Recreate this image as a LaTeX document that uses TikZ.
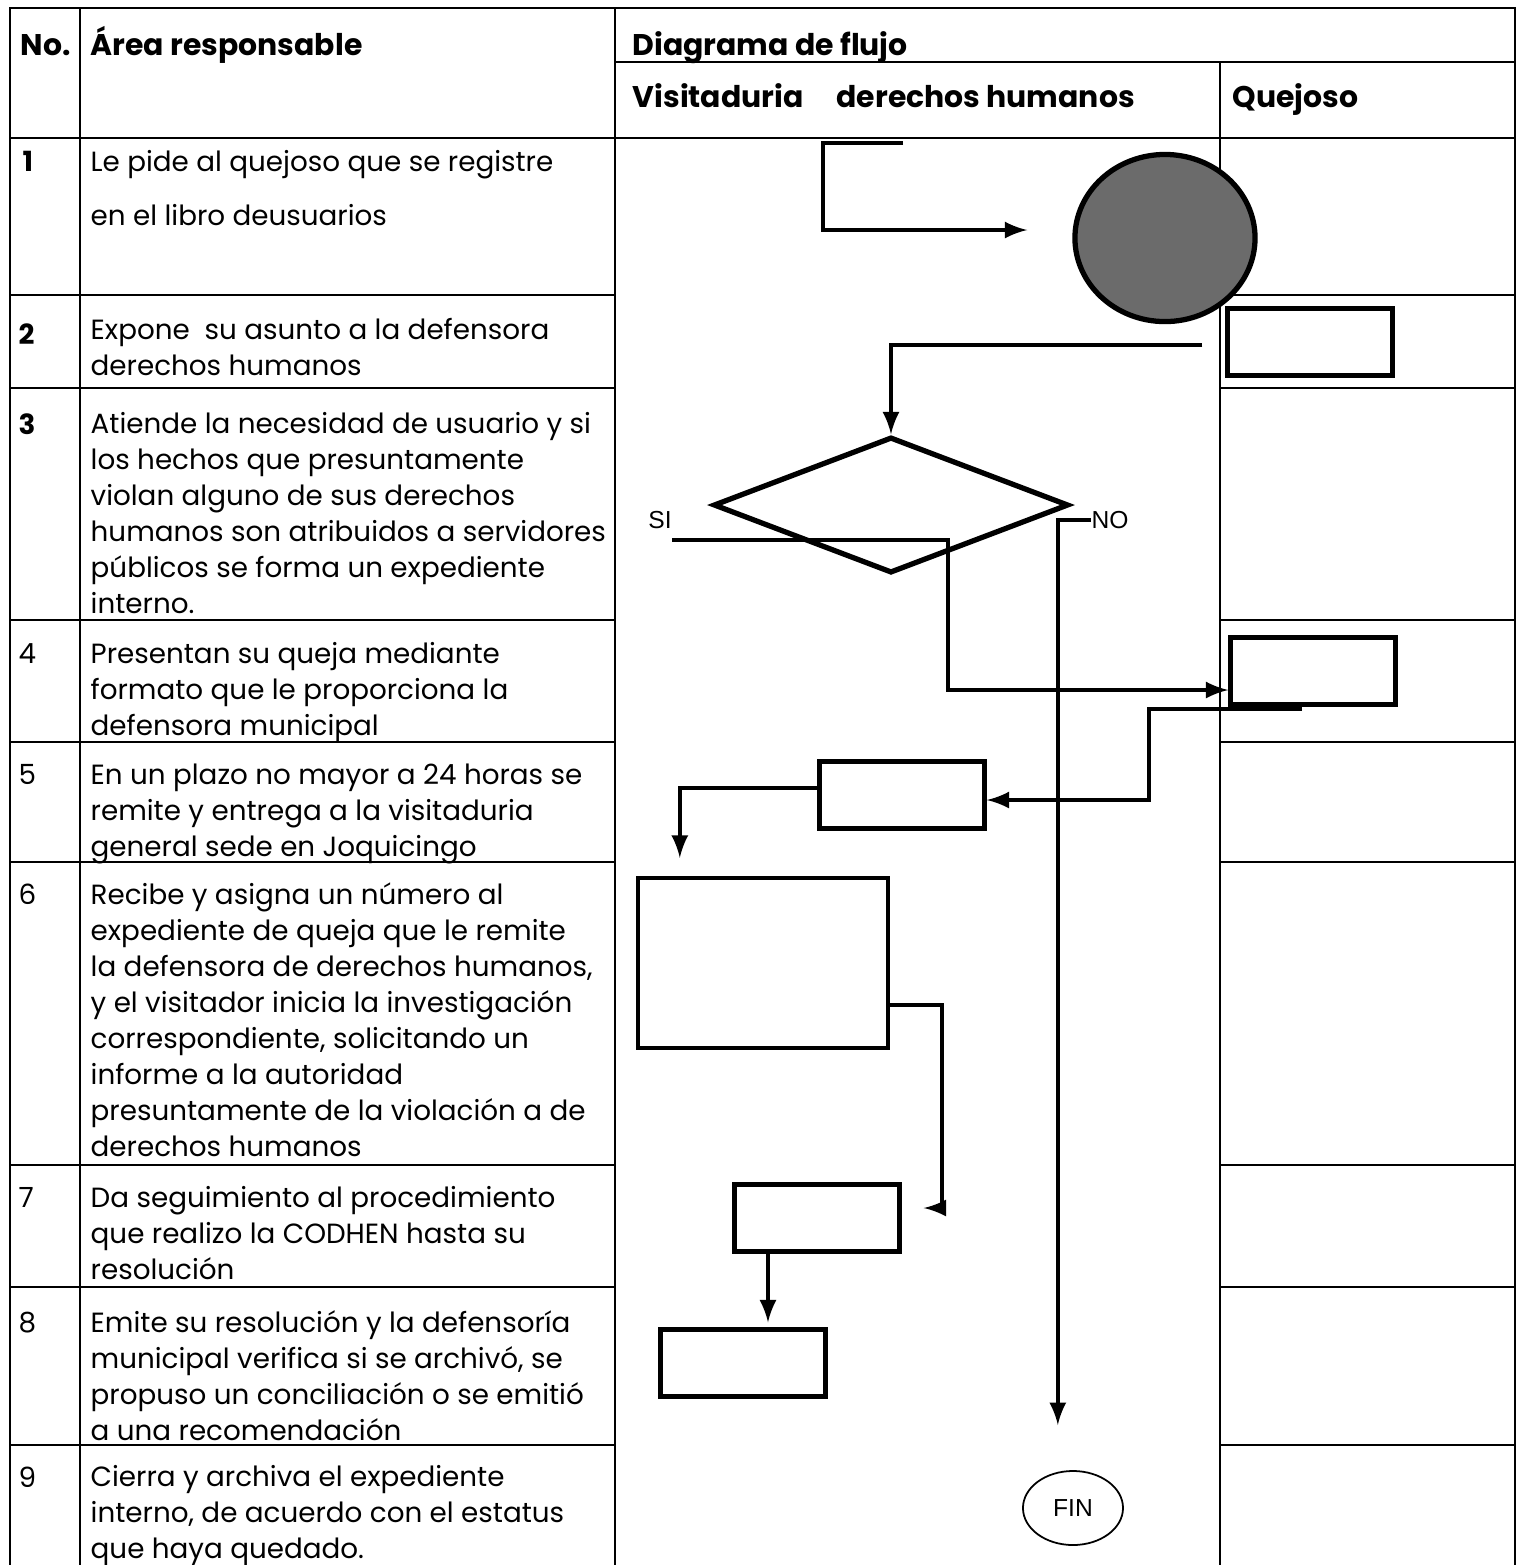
\documentclass[tikz,border=0pt]{standalone}
\usepackage{fontspec}
\setmainfont{Poppins}
\newfontfamily\arialfont{Liberation Sans}
\usetikzlibrary{shapes.geometric,calc}

\begin{document}
\begin{tikzpicture}[
  x=0.01cm, y=-0.01cm,
  rejilla/.style={line width=0.45pt},
  linea/.style={line width=1.2pt},
  flecha/.style={-latex, line width=1.2pt},
  caja/.style={draw, line width=1.2pt, minimum width=1.65cm, minimum height=0.67cm, inner sep=0pt},
  encabezado/.style={anchor=base west, inner sep=0pt, font=\bfseries\fontsize{8.5}{10}\selectfont},
  numero/.style={anchor=north west, inner sep=0pt, font=\fontsize{7.9}{10.24}\selectfont},
  texto/.style={anchor=north west, inner sep=0pt, align=left, font=\fontsize{7.9}{10.24}\selectfont},
  etiqueta/.style={inner sep=0pt, font=\arialfont\fontsize{7}{8}\selectfont}
]
\useasboundingbox (0,0) rectangle (1518,1565);

% tabla
\draw[rejilla] (10,1565) -- (10,8) -- (1515,8) -- (1515,1565);
\draw[rejilla] (80,8) -- (80,1565);
\draw[rejilla] (615,8) -- (615,1565);
\draw[rejilla] (615,62) -- (1515,62);
\draw[rejilla] (1220,62) -- (1220,1565);
\draw[rejilla] (10,138) -- (1515,138);
\foreach \y in {295,388,620,742,862,1165,1287,1445} {
  \draw[rejilla] (10,\y) -- (615,\y);
  \draw[rejilla] (1220,\y) -- (1515,\y);
}

% encabezados
\node[encabezado] (hno) at (20,55) {No.};
\node[encabezado] (harea) at (90,55) {Área responsable};
\node[encabezado] (hdiag) at (632,55) {Diagrama de flujo};
\node[encabezado] (hvis) at (632,107) {Visitaduria\hspace{1.1em}derechos humanos};
\node[encabezado] (hquej) at (1232,107) {Quejoso};

% actividades
\node[numero, font=\bfseries\fontsize{7.9}{10.24}\selectfont] (n1) at (22,150) {1};
\node[texto] (t1) at (90,150) {Le pide al quejoso que se registre\\[5pt]en el libro deusuarios};
\node[numero, font=\bfseries\fontsize{7.9}{10.24}\selectfont] (n2) at (18,323) {2};
\node[texto] (t2) at (90,318) {Expone \ su asunto a la defensora\\derechos humanos};
\node[numero, font=\bfseries\fontsize{7.9}{10.24}\selectfont] (n3) at (18,413) {3};
\node[texto] (t3) at (90,412) {Atiende la necesidad de usuario y si\\los hechos que presuntamente\\violan alguno de sus derechos\\humanos son atribuidos a servidores\\públicos se forma un expediente\\interno.};
\node[numero] (n4) at (18,643) {4};
\node[texto] (t4) at (90,642) {Presentan su queja mediante\\formato que le proporciona la\\defensora municipal};
\node[numero] (n5) at (18,764) {5};
\node[texto] (t5) at (90,763) {En un plazo no mayor a 24 horas se\\remite y entrega a la visitaduria\\general sede en Joquicingo};
\node[numero] (n6) at (18,883) {6};
\node[texto] (t6) at (90,882) {Recibe y asigna un número al\\expediente de queja que le remite\\la defensora de derechos humanos,\\y el visitador inicia la investigación\\correspondiente, solicitando un\\informe a la autoridad\\presuntamente de la violación a de\\derechos humanos};
\node[numero] (n7) at (18,1187) {7};
\node[texto] (t7) at (90,1186) {Da seguimiento al procedimiento\\que realizo la CODHEN hasta su\\resolución};
\node[numero] (n8) at (18,1311) {8};
\node[texto] (t8) at (90,1310) {Emite su resolución y la defensoría\\municipal verifica si se archivó, se\\propuso un conciliación o se emitió\\a una recomendación};
\node[numero] (n9) at (18,1466) {9};
\node[texto] (t9) at (90,1465) {Cierra y archiva el expediente\\interno, de acuerdo con el estatus\\que haya quedado.};

% diagrama
\node[ellipse, draw, line width=1.5pt, fill=black!58, minimum width=1.8cm, minimum height=1.67cm] (inicio) at (1165,238) {};
\node[caja] (q1) at (1310,342) {};
\node[diamond, draw, line width=1.5pt, minimum width=3.55cm, minimum height=1.36cm, inner sep=0pt] (dec) at (891,505) {};
\node[caja] (q2) at (1313,671) {};
\node[caja] (b5) at (902,795) {};
\node[caja, minimum width=2.5cm, minimum height=1.7cm] (b6) at (763,963) {};
\node[caja] (b7) at (817,1218) {};
\node[caja] (b8) at (743,1363) {};
\node[ellipse, draw, line width=0.5pt, minimum width=1.0cm, minimum height=0.74cm, inner sep=0pt, font=\arialfont\fontsize{7}{8}\selectfont] (fin) at (1073,1508) {FIN};
\node[etiqueta] (si) at (660,520) {SI};
\node[etiqueta] (no) at (1110,520) {NO};

\coordinate (c0) at (903,143);
\draw[flecha] (c0) -- (823,143) |- ($(inicio.west)+(-45,-8)$);
\draw[flecha] ($(q1.west)+(-23,3)$) -| (dec.north);
\draw[flecha] ($(si.east)+(0,20)$) -| ($(q2.west)+(-280,19)$) -- ($(q2.west)+(0,19)$);
\draw[flecha] (no.west) -- ($(no.west)+(-33,0)$) -- ($(no.west)+(-33,905)$);
\draw[flecha] ($(q2.south)+(-11,2)$) -| ($(b5.east)+(162,5)$) -- ($(b5.east)+(0,5)$);
\draw[flecha] ($(b5.west)+(0,-7)$) -| ($(b6.north west)+(44,-18)$);
\draw[flecha] ($(b6.east)+(0,42)$) -| ($(b7.east)+(40,-10)$) -- ($(b7.east)+(22,-10)$);
\draw[flecha] ($(b7.south)+(-49,0)$) -- ($(b8.north)+(25,-5)$);
\end{tikzpicture}
\end{document}
